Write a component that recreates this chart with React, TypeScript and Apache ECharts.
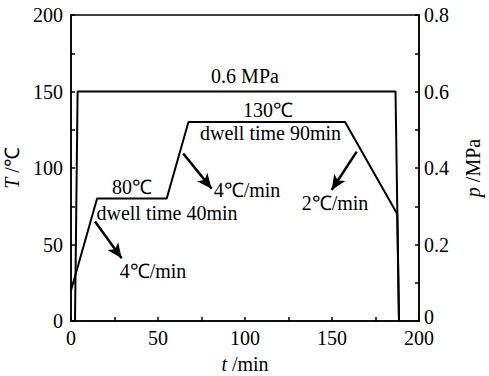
import React, { useEffect, useRef } from "react";
import * as echarts from "echarts";

const tempCurve: [number, number][] = [
  [0, 20], [15, 80], [55, 80], [67.5, 130], [157.5, 130], [187.5, 70], [188.5, 0],
];
const pressureCurve: [number, number][] = [
  [2.3, 0], [3.8, 0.6], [186.5, 0.6], [188.5, 0],
];
// arrows in data coordinates (t, T): [from, to]
const arrows: [[number, number], [number, number]][] = [
  [[13.8, 65], [29.1, 41]],
  [[64.5, 109.5], [80.8, 86.5]],
  [[164.2, 110.7], [149.8, 85.6]],
];
// annotation texts with pixel centers
const notes: { text: string; x: number; y: number }[] = [
  { text: "0.6 MPa", x: 245, y: 76 },
  { text: "130℃", x: 268, y: 110 },
  { text: "dwell time 90min", x: 270.5, y: 133 },
  { text: "80℃", x: 132, y: 187 },
  { text: "dwell time 40min", x: 167, y: 213 },
  { text: "4℃/min", x: 153, y: 271 },
  { text: "4℃/min", x: 247, y: 190 },
  { text: "2℃/min", x: 335, y: 203 },
];

const FONT = "Liberation Serif";

export default function App() {
  const ref = useRef<HTMLDivElement>(null);
  useEffect(() => {
    if (!ref.current) return;
    const chart = echarts.init(ref.current, undefined, { renderer: "svg" });
    const axisCommon = {
      axisLine: { show: true, lineStyle: { color: "#000", width: 1.5 } },
      axisTick: { show: true, inside: true, length: 4, lineStyle: { color: "#000", width: 1.5 } },
      minorTick: { show: true, splitNumber: 2, length: 4, lineStyle: { color: "#000", width: 1.5 } },
      splitLine: { show: false },
      axisLabel: { color: "#000", fontSize: 20, fontFamily: FONT },
    };
    const rich = { i: { fontStyle: "italic", fontSize: 20, fontFamily: FONT, color: "#000", lineHeight: 20 } };
    chart.setOption({
      animation: false,
      textStyle: { fontFamily: FONT },
      grid: {
        left: 71, right: 70, top: 15, bottom: 55,
        outerBoundsMode: "none",
        containLabel: false,
        show: true, borderColor: "#000", borderWidth: 1.5, backgroundColor: "transparent",
      },
      xAxis: {
        type: "value", min: 0, max: 200, interval: 50,
        ...axisCommon,
        axisLabel: { ...axisCommon.axisLabel, margin: 7 },
        name: "{i|t} /min",
        nameLocation: "middle",
        nameGap: 33,
        nameTextStyle: { color: "#000", fontSize: 20, fontFamily: FONT, lineHeight: 20, rich },
      },
      yAxis: [
        {
          type: "value", min: 0, max: 200, interval: 50,
          ...axisCommon,
          axisLabel: { ...axisCommon.axisLabel, margin: 8 },
          name: "{i|T} /℃",
          nameLocation: "middle",
          nameGap: 44,
          nameTextStyle: { color: "#000", fontSize: 20, fontFamily: FONT, rich },
        },
        {
          type: "value", min: 0, max: 0.8, interval: 0.2, position: "right",
          ...axisCommon,
          axisLabel: {
            ...axisCommon.axisLabel, margin: 5,
            formatter: (v: number) => (v === 0 ? "{z|0}" : v.toFixed(1)),
            rich: { z: { fontSize: 20, fontFamily: FONT, color: "#000", padding: [0, 0, 9, 0] } },
          },
          name: "{i|p} /MPa",
          nameLocation: "middle",
          nameGap: 44,
          nameRotate: 90,
          nameTextStyle: { color: "#000", fontSize: 20, fontFamily: FONT, rich },
        },
      ],
      series: [
        {
          type: "line",
          data: tempCurve,
          yAxisIndex: 0,
          symbol: "none",
          lineStyle: { color: "#000", width: 2 },
          markLine: {
            silent: true,
            symbol: ["none", "arrow"],
            symbolSize: [10, 15],
            label: { show: false },
            lineStyle: { color: "#000", width: 2.5, type: "solid" },
            data: arrows.map(([a, b]) => [{ coord: a }, { coord: b }]),
          },
        },
        {
          type: "line",
          data: pressureCurve,
          yAxisIndex: 1,
          symbol: "none",
          lineStyle: { color: "#000", width: 2 },
        },
      ],
      graphic: notes.map((n) => ({
        type: "text",
        x: n.x,
        y: n.y,
        style: {
          text: n.text,
          fontSize: 20,
          fontFamily: FONT,
          fill: "#000",
          align: "center",
          verticalAlign: "middle",
        },
      })),
    });
    return () => chart.dispose();
  }, []);
  return <div ref={ref} style={{ width: 489, height: 376, position: "absolute", left: 0, top: 0 }} />;
}
